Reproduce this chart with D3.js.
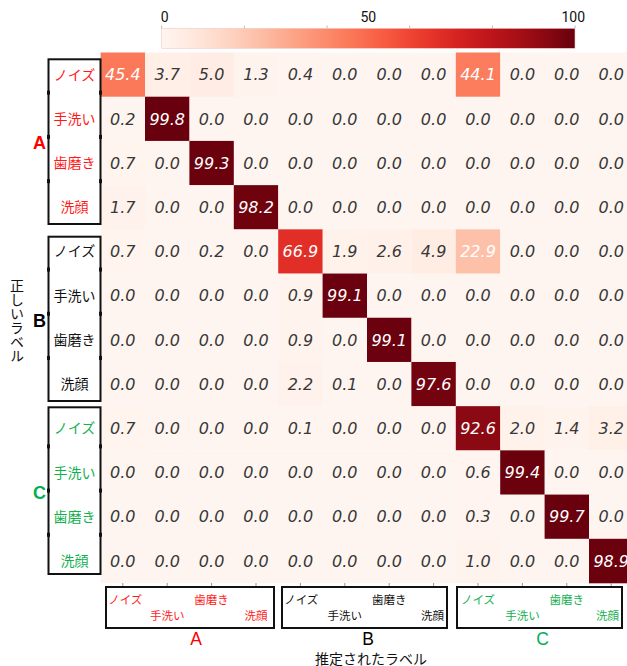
<!DOCTYPE html>
<html><head><meta charset="utf-8">
<script src="https://cdn.jsdelivr.net/npm/d3@7"></script>
<style>body{margin:0;background:#fff}svg{display:block}</style>
</head><body>
<svg id="c" width="627" height="666"></svg>
<script>
const groups = ["A", "B", "C"];
const classes = ["ノイズ", "手洗い", "歯磨き", "洗顔"];
const groupColors = ["#ff1a1a", "#111111", "#12b04f"];
const values = [
  [45.4, 3.7, 5.0, 1.3, 0.4, 0.0, 0.0, 0.0, 44.1, 0.0, 0.0, 0.0],
  [0.2, 99.8, 0.0, 0.0, 0.0, 0.0, 0.0, 0.0, 0.0, 0.0, 0.0, 0.0],
  [0.7, 0.0, 99.3, 0.0, 0.0, 0.0, 0.0, 0.0, 0.0, 0.0, 0.0, 0.0],
  [1.7, 0.0, 0.0, 98.2, 0.0, 0.0, 0.0, 0.0, 0.0, 0.0, 0.0, 0.0],
  [0.7, 0.0, 0.2, 0.0, 66.9, 1.9, 2.6, 4.9, 22.9, 0.0, 0.0, 0.0],
  [0.0, 0.0, 0.0, 0.0, 0.9, 99.1, 0.0, 0.0, 0.0, 0.0, 0.0, 0.0],
  [0.0, 0.0, 0.0, 0.0, 0.9, 0.0, 99.1, 0.0, 0.0, 0.0, 0.0, 0.0],
  [0.0, 0.0, 0.0, 0.0, 2.2, 0.1, 0.0, 97.6, 0.0, 0.0, 0.0, 0.0],
  [0.7, 0.0, 0.0, 0.0, 0.1, 0.0, 0.0, 0.0, 92.6, 2.0, 1.4, 3.2],
  [0.0, 0.0, 0.0, 0.0, 0.0, 0.0, 0.0, 0.0, 0.6, 99.4, 0.0, 0.0],
  [0.0, 0.0, 0.0, 0.0, 0.0, 0.0, 0.0, 0.0, 0.3, 0.0, 99.7, 0.0],
  [0.0, 0.0, 0.0, 0.0, 0.0, 0.0, 0.0, 0.0, 1.0, 0.0, 0.0, 98.9]
];
const cbTicks = [0, 20, 40, 60, 80, 100];
const cbLabels = [0, 50, 100];
const yTitle = "正しいラベル";
const xTitle = "推定されたラベル";

const keys = [];
groups.forEach((g, gi) => classes.forEach((c, ci) => keys.push({g, gi, c, ci, key: g + "-" + c})));

const svg = d3.select("#c");
const jp = "'Noto Sans CJK JP', 'Noto Sans', sans-serif";
const latin = "'Liberation Sans', Arial, sans-serif";
const letterColors = ["#ff0000", "#000000", "#00b04f"];

const x = d3.scaleBand().domain(keys.map(k => k.key)).range([100.6, 633.4]);
const y = d3.scaleBand().domain(keys.map(k => k.key)).range([52.5, 583]);
const color = d3.scaleSequential(d3.interpolateReds).domain([0, 100]);

// cells
const cells = [];
values.forEach((row, ri) => row.forEach((v, cj) => cells.push({r: keys[ri].key, c: keys[cj].key, v})));
svg.append("g").selectAll("rect").data(cells).join("rect")
  .attr("x", d => x(d.c)).attr("y", d => y(d.r))
  .attr("width", x.bandwidth() + 0.3).attr("height", y.bandwidth() + 0.3)
  .attr("fill", d => color(d.v));
svg.append("g").selectAll("text").data(cells).join("text")
  .attr("x", d => x(d.c) + x.bandwidth() / 2)
  .attr("y", d => y(d.r) + y.bandwidth() / 2)
  .attr("dy", "0.36em")
  .attr("text-anchor", "middle")
  .attr("font-family", "'DejaVu Sans', sans-serif")
  .attr("font-style", "italic")
  .attr("font-size", 16)
  .attr("fill", d => d.v > 10 ? "#ffffff" : "#383838")
  .text(d => d.v.toFixed(1));

// bottom tick marks
svg.append("g").selectAll("line").data(keys).join("line")
  .attr("x1", d => x(d.key) + x.bandwidth() / 2).attr("x2", d => x(d.key) + x.bandwidth() / 2)
  .attr("y1", 583).attr("y2", 586).attr("stroke", "#999").attr("stroke-width", 1);

// colorbar
const cbx = d3.scaleLinear().domain([0, 100]).range([161.7, 575]);
const defs = svg.append("defs");
const grad = defs.append("linearGradient").attr("id", "g1");
d3.range(0, 1.0001, 0.05).forEach(t => grad.append("stop").attr("offset", t).attr("stop-color", d3.interpolateReds(t)));
svg.append("rect").attr("x", cbx(0)).attr("y", 28.3).attr("width", cbx(100) - cbx(0)).attr("height", 20)
  .attr("fill", "url(#g1)").attr("stroke", "#f3c9c4").attr("stroke-width", 0.6);
svg.append("g").selectAll("line").data(cbTicks).join("line")
  .attr("x1", d => cbx(d)).attr("x2", d => cbx(d)).attr("y1", 25.5).attr("y2", 28.3)
  .attr("stroke", "#bbb").attr("stroke-width", 1);
svg.append("g").selectAll("text").data(cbLabels).join("text")
  .attr("x", d => cbx(d)).attr("y", 21.5)
  .attr("text-anchor", d => d === 0 ? "start" : (d === 100 ? "end" : "middle"))
  .attr("dx", d => d === 0 ? -1 : (d === 100 ? 10 : 0))
  .attr("font-family", "Roboto, 'Noto Sans', sans-serif").attr("font-size", 14).attr("fill", "#111")
  .text(d => d);

// left group boxes
const leftBoxes = [[59.3, 224], [236.7, 401], [407.3, 574]];
const bigY = [143, 321, 493];
groups.forEach((g, gi) => {
  const [t, b] = leftBoxes[gi];
  svg.append("rect").attr("x", 48.5).attr("y", t).attr("width", 52).attr("height", b - t)
    .attr("fill", "none").attr("stroke", "#111").attr("stroke-width", 2);
  classes.forEach((c, ci) => {
    const k = g + "-" + c;
    if (ci > 0) {
      [48.5, 100.5].forEach(xx => svg.append("line").attr("x1", xx).attr("x2", xx)
        .attr("y1", y(k) - 6).attr("y2", y(k) - 2).attr("stroke", "#111").attr("stroke-width", 3));
    }
    svg.append("text").attr("x", 74.5).attr("y", y(k) + y.bandwidth() / 2).attr("dy", "0.36em")
      .attr("text-anchor", "middle").attr("font-family", jp).attr("font-size", 14)
      .attr("fill", groupColors[gi]).text(c);
  });
  svg.append("text").attr("x", 39.5).attr("y", bigY[gi]).attr("dy", "0.36em")
    .attr("text-anchor", "middle").attr("font-family", latin)
    .attr("font-weight", "bold").attr("font-size", 18)
    .attr("fill", letterColors[gi]).text(g);
});

// y title, vertical (upright characters)
svg.append("text").attr("x", 17).attr("y", 279)
  .attr("font-family", jp).attr("font-size", 14).attr("fill", "#111")
  .style("writing-mode", "vertical-rl").style("text-orientation", "upright")
  .text(yTitle);

// bottom group boxes
const botBoxes = [[106, 274], [282, 447], [457, 622]];
const botLetterX = [196, 368, 542.5];
groups.forEach((g, gi) => {
  const [l, r] = botBoxes[gi];
  svg.append("rect").attr("x", l).attr("y", 587).attr("width", r - l).attr("height", 41)
    .attr("fill", "none").attr("stroke", "#111").attr("stroke-width", 2);
  classes.forEach((c, ci) => {
    const k = g + "-" + c;
    const w = c.length * 11.5;
    let cx = x(k) + x.bandwidth() / 2;
    cx = Math.max(l + 2 + w / 2, Math.min(r - 3 - w / 2, cx));
    svg.append("text").attr("x", cx).attr("y", ci % 2 === 0 ? 599.5 : 615.5).attr("dy", "0.36em")
      .attr("text-anchor", "middle").attr("font-family", jp).attr("font-size", 11.5)
      .attr("fill", groupColors[gi]).text(c);
  });
  svg.append("text").attr("x", botLetterX[gi]).attr("y", 644.5)
    .attr("text-anchor", "middle").attr("font-family", latin)
    .attr("font-size", 17.5)
    .attr("fill", letterColors[gi]).text(g);
});
svg.append("text").attr("x", 371).attr("y", 663.5).attr("text-anchor", "middle")
  .attr("font-family", jp).attr("font-size", 14).attr("fill", "#111").text(xTitle);
</script>
</body></html>
